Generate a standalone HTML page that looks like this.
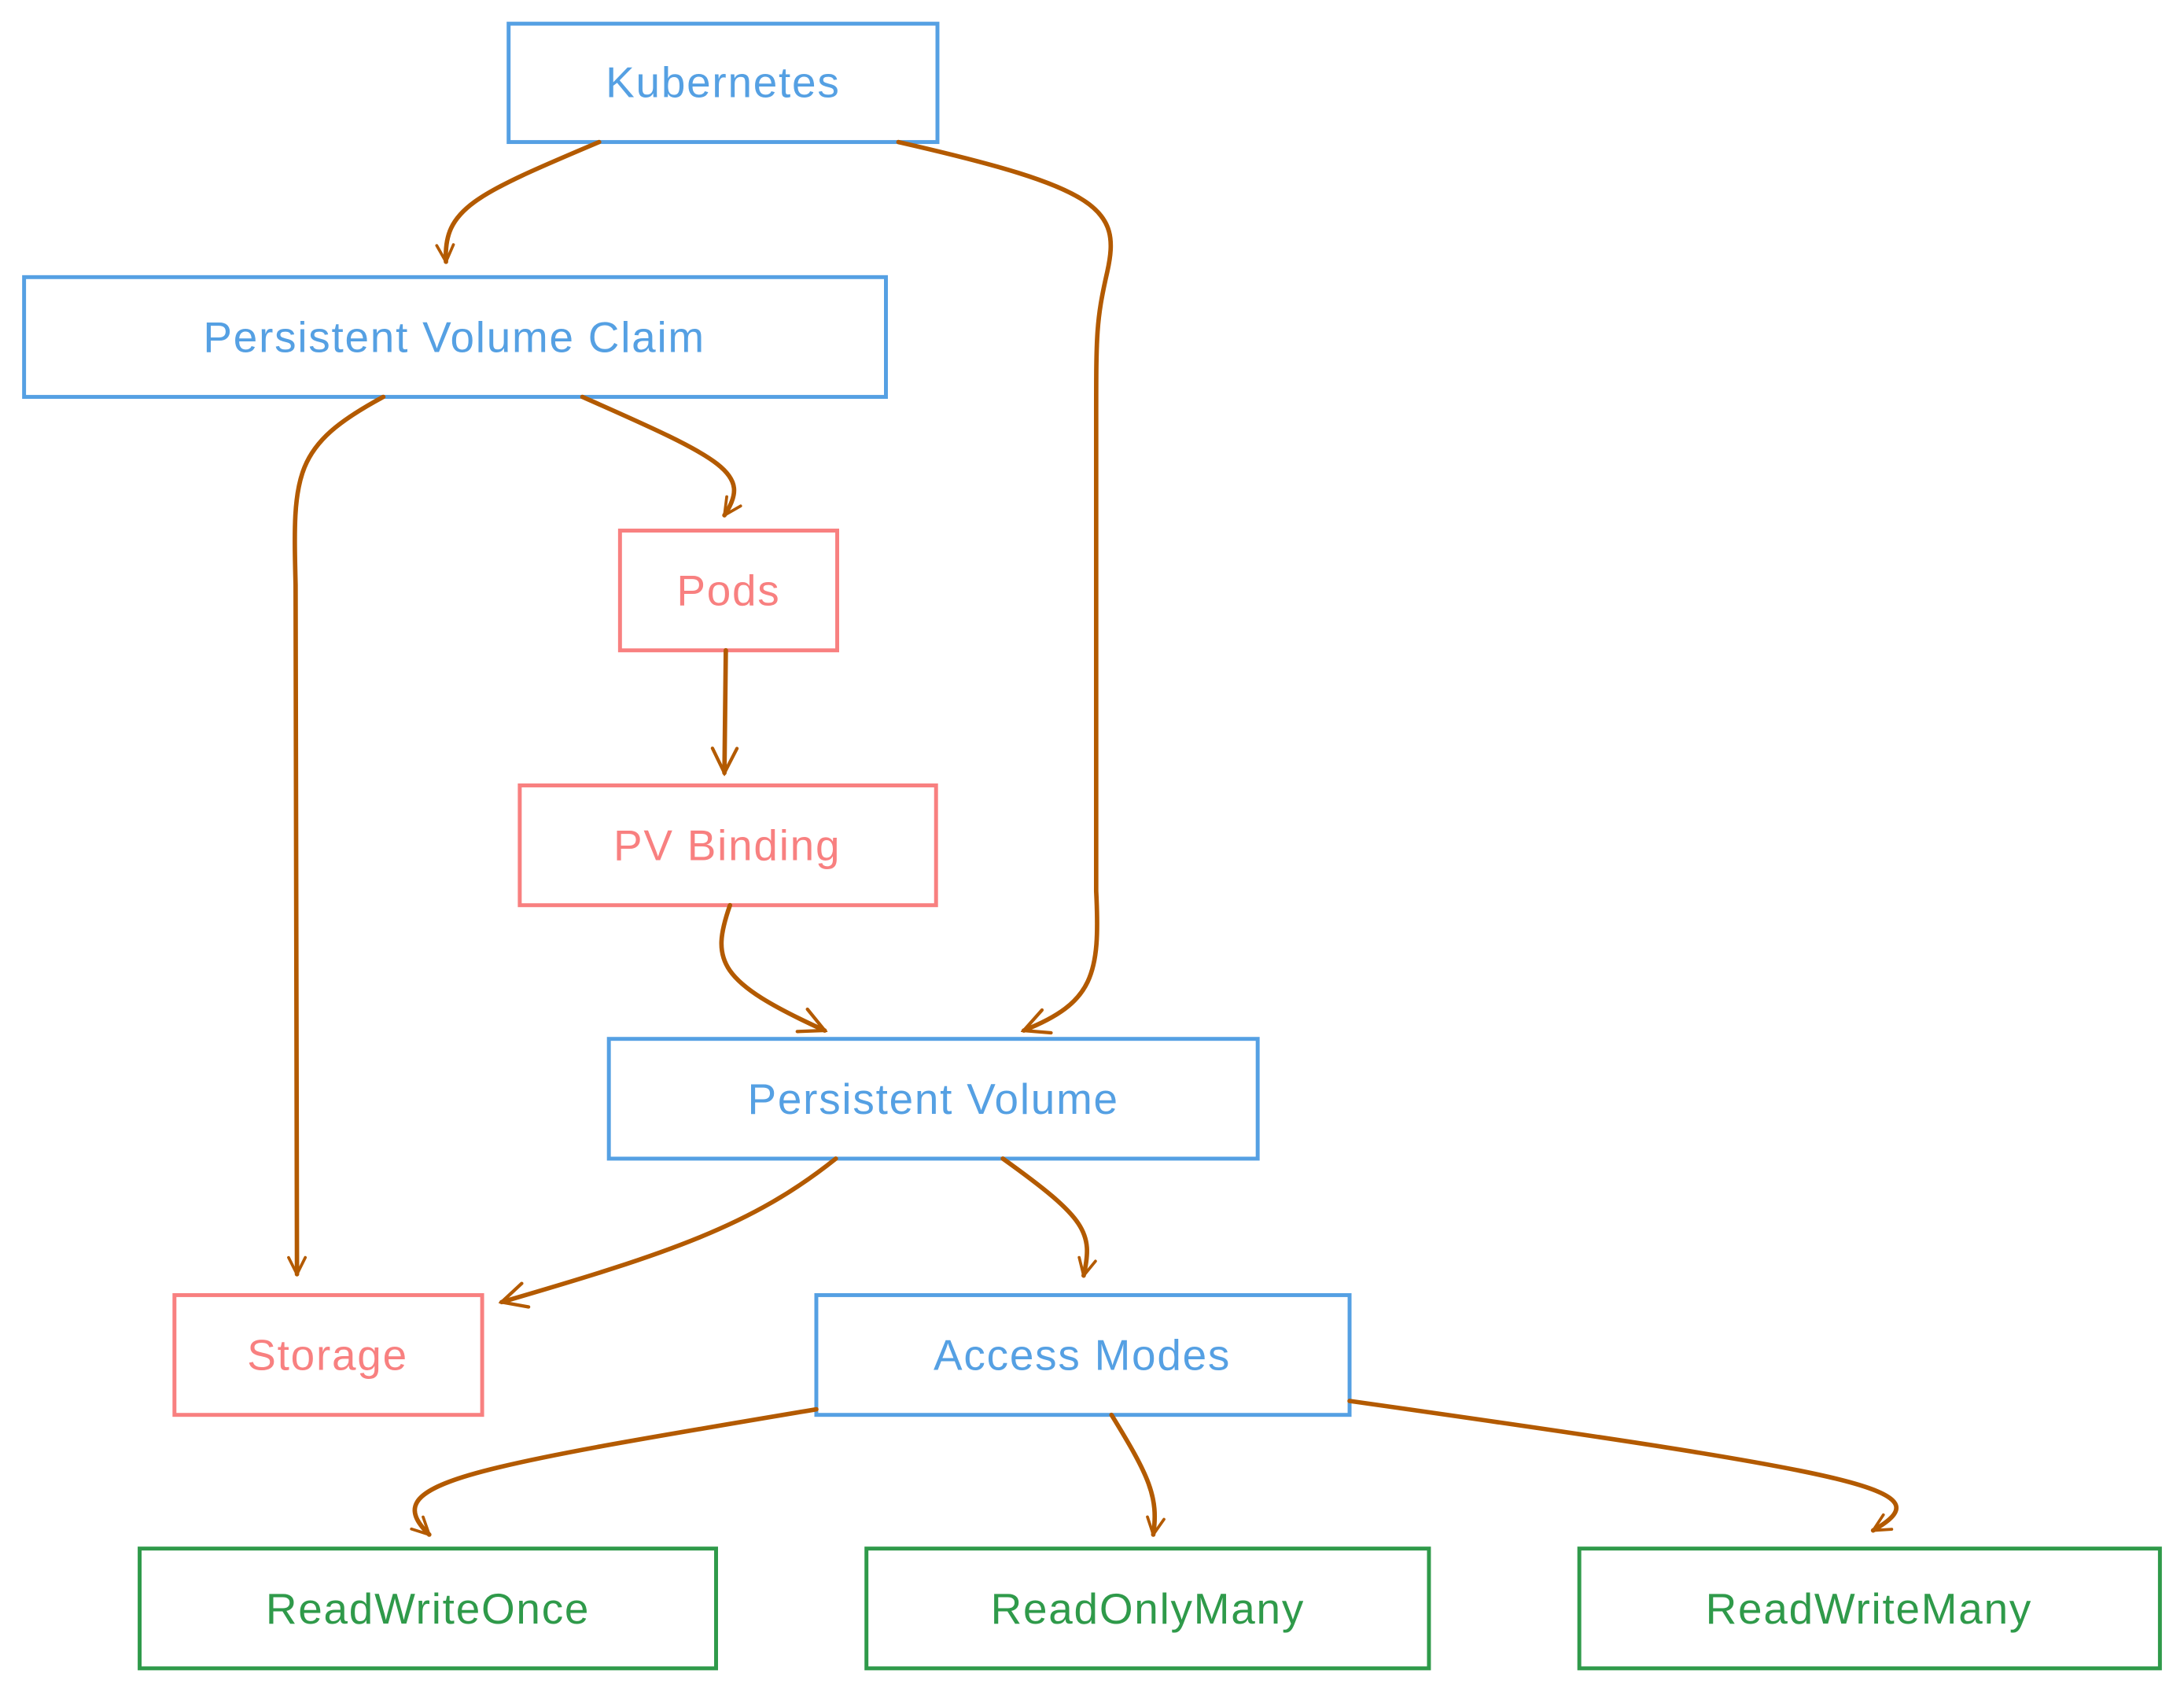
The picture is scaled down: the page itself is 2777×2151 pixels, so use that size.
<!DOCTYPE html>
<html><head><meta charset="utf-8"><style>
html,body{margin:0;padding:0;background:#fff;}
svg{display:block;}
text{font-family:"Liberation Sans",sans-serif;font-size:31px;letter-spacing:1px;text-anchor:middle;dominant-baseline:central;}
</style></head><body>
<svg width="2777" height="2151" viewBox="0 0 1568 1215" xmlns="http://www.w3.org/2000/svg">
<defs>
<marker id="a" viewBox="0 0 20 20" refX="18" refY="10" markerWidth="15" markerHeight="15" markerUnits="userSpaceOnUse" orient="auto">
<path d="M2 2 L18 10 L2 18" fill="none" stroke="#b35a00" stroke-width="2.8" stroke-linecap="round"/>
</marker>
<marker id="b" viewBox="0 0 20 20" refX="18" refY="10" markerWidth="22" markerHeight="22" markerUnits="userSpaceOnUse" orient="auto">
<path d="M2 2 L18 10 L2 18" fill="none" stroke="#b35a00" stroke-width="2.2" stroke-linecap="round"/>
</marker>
</defs>
<g fill="none" stroke-width="2.8">
<rect x="365" y="17" width="308" height="85" stroke="#55a0e3"/>
<rect x="17" y="199" width="619" height="86" stroke="#55a0e3"/>
<rect x="445" y="381" width="156" height="86" stroke="#f88080"/>
<rect x="373" y="564" width="299" height="86" stroke="#f88080"/>
<rect x="437" y="746" width="466" height="86" stroke="#55a0e3"/>
<rect x="125" y="930" width="221" height="86" stroke="#f88080"/>
<rect x="586" y="930" width="383" height="86" stroke="#55a0e3"/>
<rect x="100" y="1112" width="414" height="86" stroke="#2f9a4a"/>
<rect x="622" y="1112" width="404" height="86" stroke="#2f9a4a"/>
<rect x="1134" y="1112" width="417" height="86" stroke="#2f9a4a"/>
</g>
<g fill="none" stroke="#b35a00" stroke-width="3.2" stroke-linecap="round">
<path d="M430 102 C340 140 318 150 320 188" marker-end="url(#a)"/>
<path d="M645 102 C790 135 805 150 795 195 C787 230 787 240 787 300 L787 640 C790 700 785 720 735 740" marker-end="url(#b)"/>
<path d="M275 285 C210 320 210 340 212 420 L213 915" marker-end="url(#a)"/>
<path d="M418 285 C520 330 540 340 520 370" marker-end="url(#a)"/>
<path d="M521 467 L520 555" marker-end="url(#b)"/>
<path d="M524 650 C510 690 515 705 592 740" marker-end="url(#b)"/>
<path d="M600 832 C540 880 480 900 360 935" marker-end="url(#b)"/>
<path d="M720 832 C780 875 785 885 778 916" marker-end="url(#a)"/>
<path d="M586 1012 C330 1055 270 1065 308 1102" marker-end="url(#a)"/>
<path d="M798 1016 C825 1060 832 1075 828 1102" marker-end="url(#a)"/>
<path d="M969 1006 C1350 1060 1395 1070 1345 1099" marker-end="url(#a)"/>
</g>
<text x="519" y="59" fill="#55a0e3">Kubernetes</text>
<text x="326" y="242" fill="#55a0e3">Persistent Volume Claim</text>
<text x="523" y="424" fill="#f88080">Pods</text>
<text x="522" y="607" fill="#f88080">PV Binding</text>
<text x="670" y="789" fill="#55a0e3">Persistent Volume</text>
<text x="235" y="973" fill="#f88080">Storage</text>
<text x="777" y="973" fill="#55a0e3">Access Modes</text>
<text x="307" y="1155" fill="#2f9a4a">ReadWriteOnce</text>
<text x="824" y="1155" fill="#2f9a4a">ReadOnlyMany</text>
<text x="1342" y="1155" fill="#2f9a4a">ReadWriteMany</text>
</svg>
</body></html>
